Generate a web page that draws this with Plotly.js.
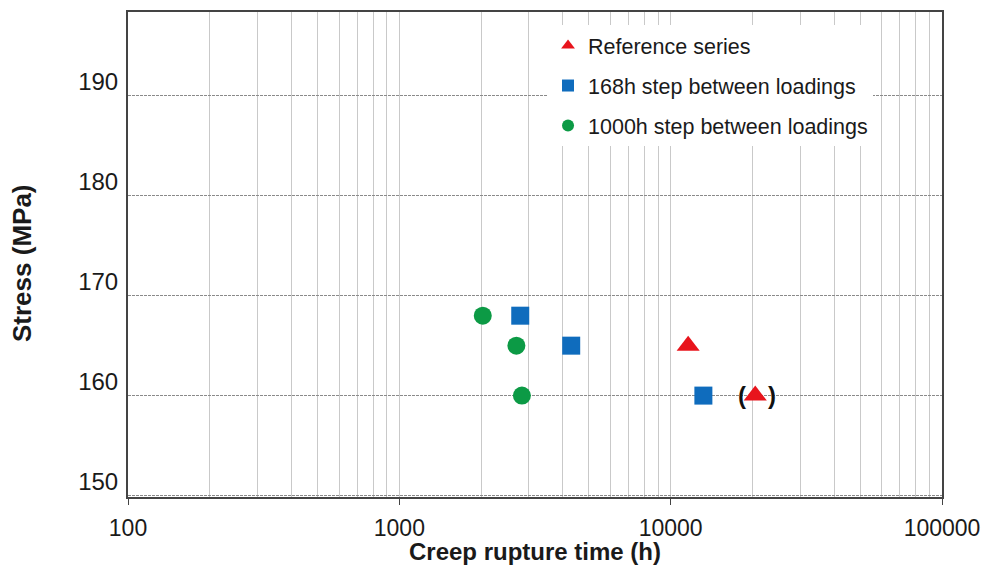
<!DOCTYPE html>
<html>
<head>
<meta charset="utf-8">
<script src="https://cdn.plot.ly/plotly-3.0.1.min.js"></script>
<style>
html,body{margin:0;padding:0;background:#fff;}
#chart{width:984px;height:565px;}
</style>
</head>
<body>
<div id="chart"></div>
<script>
// Data
const seriesNames = ["Reference series", "168h step between loadings", "1000h step between loadings"];
const refTime = [11600, 20500];
const refStress = [165, 160];
const step168Time = [2790, 4300, 13200];
const step168Stress = [168, 165, 160];
const step1000Time = [2030, 2700, 2830];
const step1000Stress = [168, 165, 160];
const xTickVals = [100, 1000, 10000, 100000];
const xTickText = ["100", "1000", "10000", "100000"];
const yTickVals = [150, 160, 170, 180, 190];
const bracketPoint = {x: 20500, y: 160};
const xTitle = "Creep rupture time (h)";
const yTitle = "Stress (MPa)";

const font = "Liberation Sans, Arial, sans-serif";

const traces = [
  {
    x: refTime, y: refStress, name: seriesNames[0], type: "scatter", mode: "markers",
    legendgroup: "a",
    marker: {symbol: "triangle-up", size: 20, color: "#e8141c"}
  },
  {
    x: step168Time, y: step168Stress, name: seriesNames[1], type: "scatter", mode: "markers",
    legendgroup: "b",
    marker: {symbol: "square", size: 18, color: "#0f6cbd"}
  },
  {
    x: step1000Time, y: step1000Stress, name: seriesNames[2], type: "scatter", mode: "markers",
    legendgroup: "c",
    marker: {symbol: "circle", size: 18, color: "#0c9a45"}
  }
];

const layout = {
  width: 984, height: 565,
  margin: {l: 128, r: 42, t: 12, b: 68},
  paper_bgcolor: "#ffffff",
  plot_bgcolor: "#ffffff",
  font: {family: font, size: 22, color: "#1a1a1a"},
  showlegend: true,
  legend: {
    x: 0.516, xanchor: "left", y: 0.973, yanchor: "top",
    bgcolor: "#ffffff", borderwidth: 0,
    font: {family: font, size: 21.5, color: "#1a1a1a"},
    itemsizing: "constant",
    traceorder: "grouped",
    tracegroupgap: 9
  },
  xaxis: {
    type: "log",
    range: [2, 5],
    tickvals: xTickVals, ticktext: xTickText,
    ticks: "outside", ticklen: 6, tickcolor: "#444", tickwidth: 1,
    showline: true, linecolor: "#444", linewidth: 2, mirror: true,
    showgrid: false,
    minor: {showgrid: true, gridcolor: "#c9c9c9", gridwidth: 1, dtick: "D1", ticks: ""},
    tickfont: {family: font, size: 23, color: "#1a1a1a"},
    ticklabelstandoff: 3,
    title: {text: "<b>" + xTitle + "</b>", font: {family: font, size: 24, color: "#1a1a1a"}, standoff: 2},
    zeroline: false
  },
  yaxis: {
    range: [149.85, 198.4],
    tickvals: yTickVals,
    ticks: "",
    showline: true, linecolor: "#444", linewidth: 2, mirror: true,
    showgrid: true, gridcolor: "#8a8a8a", gridwidth: 1, griddash: "3px,1px",
    tickfont: {family: font, size: 24, color: "#1a1a1a"},
    ticklabelshift: -14,
    ticklabelstandoff: 3,
    zeroline: false
  },
  annotations: [
    {xref: "paper", yref: "paper", x: -0.1302, y: 0.4825, text: "<b>" + yTitle + "</b>",
     textangle: -90, showarrow: false, xanchor: "center", yanchor: "middle",
     font: {family: font, size: 26, color: "#1a1a1a"}},
    {x: Math.log10(bracketPoint.x), y: bracketPoint.y, xref: "x", yref: "y", text: "<b>(</b>",
     showarrow: false, xshift: -13, font: {family: font, size: 24, color: "#111"}},
    {x: Math.log10(bracketPoint.x), y: bracketPoint.y, xref: "x", yref: "y", text: "<b>)</b>",
     showarrow: false, xshift: 17, font: {family: font, size: 24, color: "#111"}}
  ]
};

Plotly.newPlot("chart", traces, layout, {displayModeBar: false, staticPlot: true});
</script>
</body>
</html>
